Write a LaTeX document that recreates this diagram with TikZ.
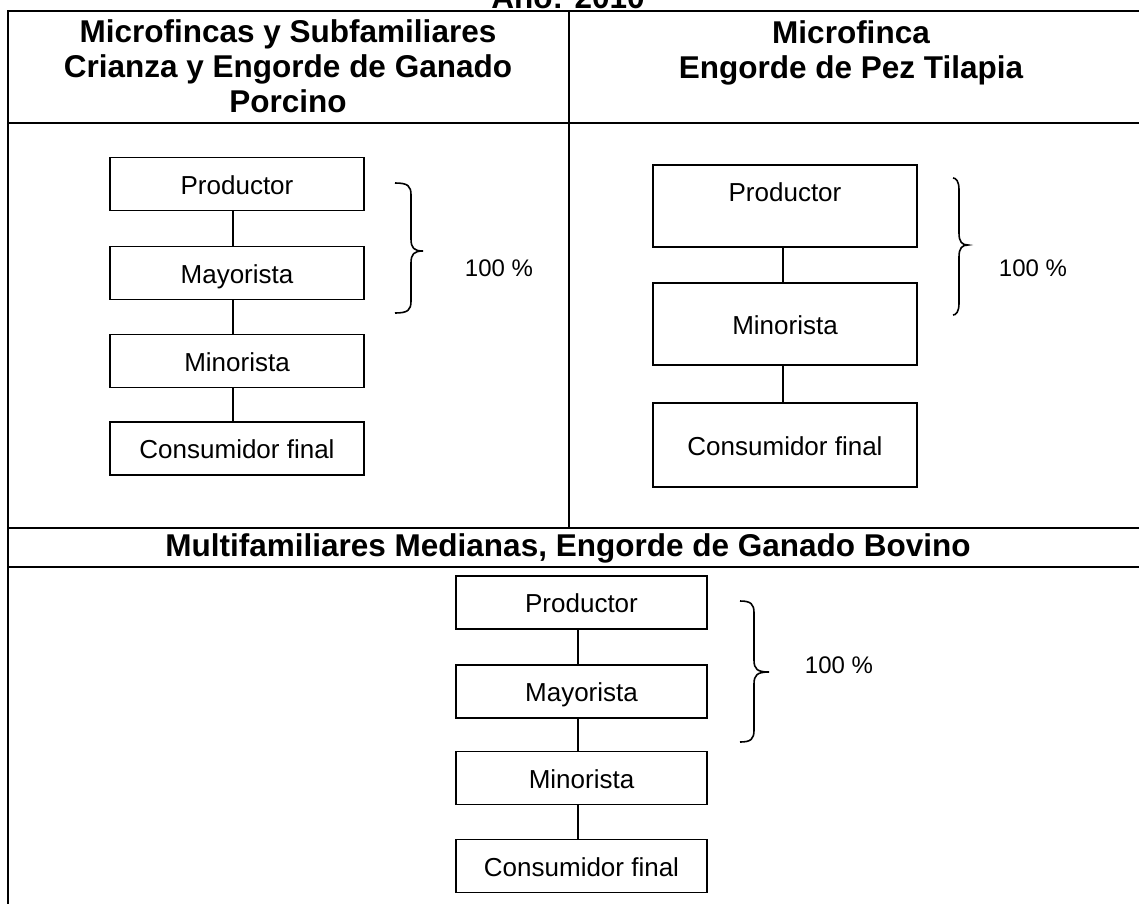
\documentclass[tikz,border=0pt]{standalone}
\usepackage{fontspec}
\setmainfont{Liberation Sans}
\tikzset{
  tbl/.style={line width=2pt, line cap=rect},
  box/.style={draw, line width=1.8pt, fill=white, inner sep=0pt, text height=20pt, text depth=0pt, font=\fontsize{26}{30}\selectfont},
  lbox/.style={box, minimum width=254pt, minimum height=53pt},
  rbox/.style={box, minimum width=264pt, minimum height=82pt},
  bbox/.style={box, minimum width=251pt, minimum height=53pt},
  conn/.style={line width=1.6pt},
  brc/.style={line width=1.6pt},
  head/.style={font=\bfseries\fontsize{31.5}{35}\selectfont, align=center, inner sep=0pt},
  pct/.style={font=\fontsize{24}{28}\selectfont, inner sep=0pt}
}
\newcommand\mybrace[6]{% x0, xv, xtip, ytop, ymid, ybot
  \draw[brc] ({#1},{#4}) .. controls ({#2-3},{#4}) and ({#2},{#4+3}) .. ({#2},{#4+12})
    -- ({#2},{#5-12}) .. controls ({#2},{#5-3}) and ({#2+3},{#5}) .. ({#3},{#5})
    .. controls ({#2+3},{#5}) and ({#2},{#5+3}) .. ({#2},{#5+12})
    -- ({#2},{#6-12}) .. controls ({#2},{#6-3}) and ({#2-3},{#6}) .. ({#1},{#6});}
\begin{document}
\begin{tikzpicture}[x=1pt,y=-1pt]
\clip (0,0) rectangle (1139,903);
\fill[white] (0,0) rectangle (1139,903);
% title (cut off at top, as in the reference)
\node[head, anchor=base] (title) at (568,8) {Año: 2010};
% table lines
\draw[tbl] (8,11) -- (1145,11);
\draw[tbl] (8,122.5) -- (1145,122.5);
\draw[tbl] (8,528) -- (1145,528);
\draw[tbl] (8,567) -- (1145,567);
\draw[tbl] (8,11) -- (8,910);
\draw[tbl] (568.5,11) -- (568.5,528);
% headers
\node[head] (h1) at (288,66.5) {Microfincas y Subfamiliares\\Crianza y Engorde de Ganado\\Porcino};
\node[head] (h2) at (851,53) {Microfinca\\Engorde de Pez Tilapia};
\node[head] (h3) at (568,548) {Multifamiliares Medianas, Engorde de Ganado Bovino};
% left column
\node[lbox] (l1) at (237,184) {Productor};
\node[lbox] (l2) at (237,273) {Mayorista};
\node[lbox] (l3) at (237,361) {Minorista};
\node[lbox] (l4) at (237,448.5) {Consumidor final};
\foreach \a/\b in {l1/l2,l2/l3,l3/l4}
  \draw[conn] ([xshift=-4pt]\a.south) -- ([xshift=-4pt]\b.north);
\mybrace{395}{411}{423}{183}{251}{313}
\node[pct] (p1) at (499,268) {100 \%};
% right column
\node[rbox, label={[anchor=north, yshift=-18pt, inner sep=0pt, font=\fontsize{26}{30}\selectfont]north:Productor}] (r1) at (785,206) {};
\node[rbox] (r2) at (785,324) {Minorista};
\node[rbox, minimum height=84pt] (r3) at (785,445) {Consumidor final};
\foreach \a/\b in {r1/r2,r2/r3}
  \draw[conn] ([xshift=-2pt]\a.south) -- ([xshift=-2pt]\b.north);
\mybrace{953}{959}{968}{178}{245}{315}
\node[pct] (p2) at (1033,268) {100 \%};
% bottom
\node[bbox] (b1) at (581.5,602.5) {Productor};
\node[bbox] (b2) at (581.5,691.5) {Mayorista};
\node[bbox] (b3) at (581.5,778) {Minorista};
\node[bbox] (b4) at (581.5,866) {Consumidor final};
\foreach \a/\b in {b1/b2,b2/b3,b3/b4}
  \draw[conn] ([xshift=-3.5pt]\a.south) -- ([xshift=-3.5pt]\b.north);
\mybrace{740}{754}{769}{601}{672}{742}
\node[pct] (p3) at (839,665) {100 \%};
\end{tikzpicture}
\end{document}
